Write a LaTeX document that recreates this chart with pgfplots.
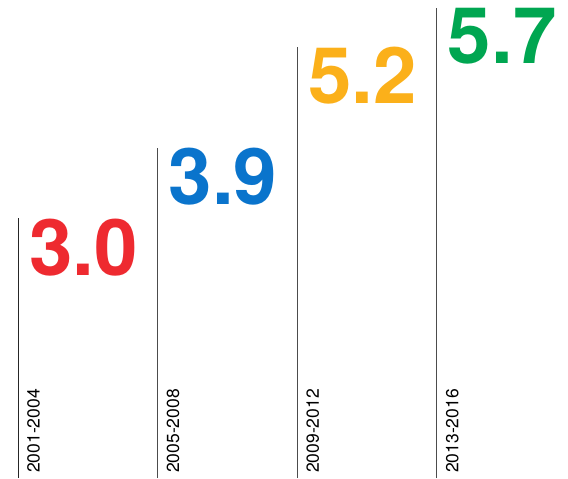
\documentclass[border=0pt]{standalone}
\usepackage{pgfplots}
\pgfplotsset{compat=1.18}
\usepackage{fontspec}
\setmainfont{TeX Gyre Heros}
\definecolor{cred}{HTML}{EE2A30}
\definecolor{cblue}{HTML}{0A74CC}
\definecolor{corange}{HTML}{FBB01A}
\definecolor{cgreen}{HTML}{00A651}
\begin{document}
\begin{tikzpicture}
\begin{axis}[
  width=568bp, height=478bp, scale only axis,
  hide axis, clip=false,
  xmin=-0.129, xmax=3.94,
  ymin=-0.33, ymax=5.8,
]
\addplot[black!85, line width=0.9bp] coordinates {(0,-0.33) (0,3.0)};
\addplot[black!70, line width=0.9bp] coordinates {(1,-0.33) (1,3.9)};
\addplot[black!70, line width=0.9bp] coordinates {(2,-0.33) (2,5.2)};
\addplot[black!70, line width=0.9bp] coordinates {(3,-0.33) (3,5.7)};
\begin{scope}[every node/.style={inner sep=0pt, anchor=north west, xshift=11bp, font=\fontsize{78bp}{78bp}\selectfont\bfseries}]
\node[text=cred] at (axis cs:0,3.0) {3.0};
\node[text=cblue] at (axis cs:1,3.9) {3.9};
\node[text=corange] at (axis cs:2,5.2) {5.2};
\node[text=cgreen] at (axis cs:3,5.7) {5.7};
\end{scope}
\begin{scope}[every node/.style={inner sep=0pt, anchor=north west, xshift=9bp, yshift=5bp, rotate=90, font=\fontsize{17.5bp}{17.5bp}\selectfont}]
\node at (axis cs:0,-0.33) {2001-2004};
\node at (axis cs:1,-0.33) {2005-2008};
\node at (axis cs:2,-0.33) {2009-2012};
\node at (axis cs:3,-0.33) {2013-2016};
\end{scope}
\pgfresetboundingbox
\path (rel axis cs:0,0) rectangle (rel axis cs:1,1);
\end{axis}
\end{tikzpicture}
\end{document}
